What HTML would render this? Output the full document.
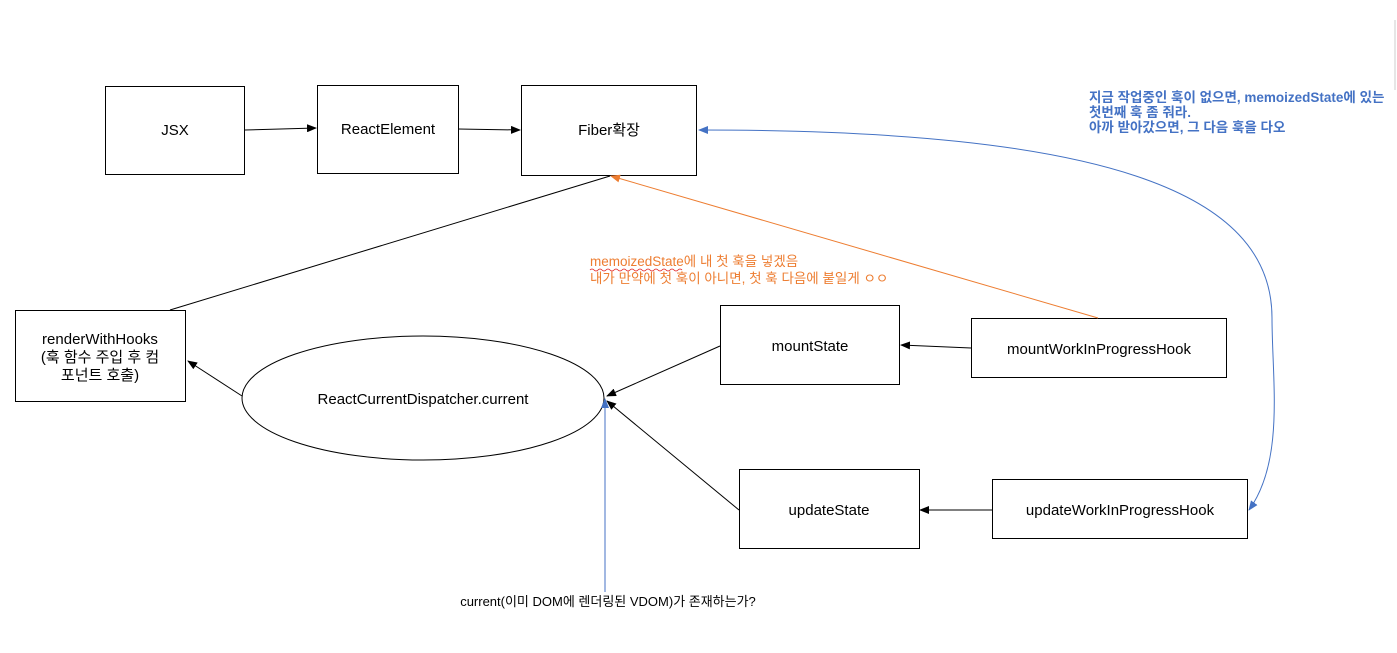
<!DOCTYPE html>
<html><head><meta charset="utf-8"><style>
html,body{margin:0;padding:0;background:#fff;}
svg{display:block;}
text{font-family:"Liberation Sans","Noto Sans CJK KR",sans-serif;}
</style></head><body>
<svg width="1397" height="653" viewBox="0 0 1397 653" xmlns="http://www.w3.org/2000/svg">
<defs>
<marker id="ak" markerWidth="10" markerHeight="8" refX="9" refY="4" orient="auto" markerUnits="userSpaceOnUse"><path d="M0,0 L10,4 L0,8 z" fill="#000"/></marker>
<marker id="ao" markerWidth="10" markerHeight="8" refX="9" refY="4" orient="auto" markerUnits="userSpaceOnUse"><path d="M0,0 L10,4 L0,8 z" fill="#ed7d31"/></marker>
<marker id="ab" markerWidth="10" markerHeight="8" refX="9" refY="4" orient="auto" markerUnits="userSpaceOnUse"><path d="M0,0 L10,4 L0,8 z" fill="#4472c4"/></marker>
</defs>
<line x1="1395" y1="20" x2="1395" y2="90" stroke="#ccc"/>
<g fill="#fff" stroke="#000" stroke-width="1">
<rect x="105.5" y="86.5" width="139" height="88"/>
<rect x="317.5" y="85.5" width="141" height="88"/>
<rect x="521.5" y="85.5" width="175" height="90"/>
<rect x="15.5" y="310.5" width="170" height="91"/>
<ellipse cx="423" cy="398" rx="181" ry="62"/>
<rect x="720.5" y="305.5" width="179" height="79"/>
<rect x="971.5" y="318.5" width="255" height="59"/>
<rect x="739.5" y="469.5" width="180" height="79"/>
<rect x="992.5" y="479.5" width="255" height="59"/>
</g>
<g stroke="#000" stroke-width="1" fill="none">
<line x1="245" y1="130" x2="316" y2="128" marker-end="url(#ak)"/>
<line x1="458" y1="129" x2="520" y2="130" marker-end="url(#ak)"/>
<line x1="610" y1="176" x2="170" y2="310"/>
<line x1="242" y1="396" x2="188" y2="361" marker-end="url(#ak)"/>
<line x1="720" y1="346" x2="607" y2="396" marker-end="url(#ak)"/>
<line x1="971" y1="348" x2="901" y2="345" marker-end="url(#ak)"/>
<line x1="739" y1="510" x2="607" y2="401" marker-end="url(#ak)"/>
<line x1="992" y1="510" x2="920" y2="510" marker-end="url(#ak)"/>
</g>
<line x1="1098" y1="318" x2="611" y2="176" stroke="#ed7d31" stroke-width="1" marker-end="url(#ao)"/>
<line x1="605" y1="592" x2="605" y2="399" stroke="#4472c4" stroke-width="1" marker-end="url(#ab)"/>
<path d="M1272,318 C1272,190 1100,130 699,130" stroke="#4472c4" stroke-width="1" fill="none" marker-end="url(#ab)"/>
<path d="M1272,318 C1272,380 1285,460 1249,510" stroke="#4472c4" stroke-width="1" fill="none" marker-end="url(#ab)"/>
<g font-size="15" fill="#000" text-anchor="middle">
<text x="175" y="135">JSX</text>
<text x="388" y="134">ReactElement</text>
<text x="609" y="135">Fiber확장</text>
<text x="100" y="344">renderWithHooks</text>
<text x="100" y="362">(훅 함수 주입 후 컴</text>
<text x="100" y="380">포넌트 호출)</text>
<text x="423" y="404">ReactCurrentDispatcher.current</text>
<text x="810" y="351">mountState</text>
<text x="1099" y="354">mountWorkInProgressHook</text>
<text x="829" y="515">updateState</text>
<text x="1120" y="515">updateWorkInProgressHook</text>
</g>
<g font-size="13.5" font-weight="bold" fill="#4472c4">
<text x="1089" y="102">지금 작업중인 훅이 없으면, memoizedState에 있는</text>
<text x="1089" y="117">첫번째 훅 좀 줘라.</text>
<text x="1089" y="132">아까 받아갔으면, 그 다음 훅을 다오</text>
</g>
<g font-size="13.5" fill="#ed7d31">
<text x="590" y="266">memoizedState에 내 첫 훅을 넣겠음</text>
<text x="590" y="283">내가 만약에 첫 훅이 아니면, 첫 훅 다음에 붙일게 ㅇㅇ</text>
</g>
<path d="M590,270 q2,-2 4,0 t4,0 t4,0 t4,0 t4,0 t4,0 t4,0 t4,0 t4,0 t4,0 t4,0 t4,0 t4,0 t4,0 t4,0 t4,0 t4,0 t4,0 t4,0 t4,0 t4,0 t4,0 t4,0" stroke="#e02020" stroke-width="0.8" fill="none"/>
<text x="608" y="606" font-size="13" fill="#000" text-anchor="middle">current(이미 DOM에 렌더링된 VDOM)가 존재하는가?</text>
</svg>
</body></html>
